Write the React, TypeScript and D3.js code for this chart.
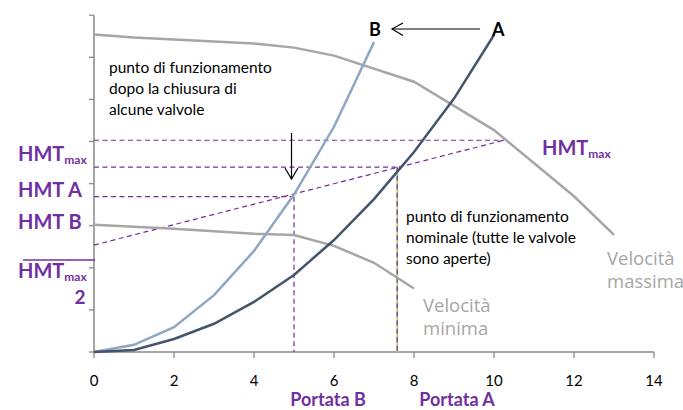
import React from 'react';
import * as d3 from 'd3';

// portata (x) e prevalenza (y)
const xTicks = [0, 2, 4, 6, 8, 10, 12, 14];
const yTicks = [0, 10, 20, 30, 40, 50, 60, 70, 80];

const qA = [0, 1, 2, 3, 4, 5, 6, 7, 8, 9, 10];
const hA = [0, 0.5, 3.1, 6.7, 11.9, 18.3, 26.6, 36.3, 47.5, 60.2, 75.3];

const qB = [0, 1, 2, 3, 4, 5, 6, 7];
const hB = [0, 1.7, 5.9, 13.5, 24, 37.4, 53.5, 73.6];

const qMax = [0, 1, 4, 5, 6, 8, 10, 12, 13];
const hMax = [75.4, 74.7, 73.3, 72.3, 70.4, 64.2, 52.7, 37, 27.8];

const qMin = [0, 2, 4, 5, 6, 7, 8];
const hMin = [30.2, 29.3, 28.1, 27.8, 25.2, 21.2, 15.1];

// punti di funzionamento
const opB = { q: 5, h: 36.9 };
const opA = { q: 7.58, h: 43.9 };
const opMax = { q: 10.25, h: 50.3 };
const slopeStart = 25.4;

const PURPLE = '#7030A0';
const GRAY = '#A6A6A6';
const DARK = '#44546A';
const LIGHT = '#8EA7C2';
const AXIS = '#898989';
const BODY = 'Lato, "Liberation Sans", sans-serif';

export default function App() {
  const W = 683;
  const H = 410;
  const x = d3.scaleLinear().domain([0, 14]).range([94, 654]);
  const y = d3.scaleLinear().domain([0, 80]).range([352, 15.2]);

  const line = d3
    .line<[number, number]>()
    .x((d) => x(d[0]))
    .y((d) => y(d[1]));

  const zip = (qs: number[], hs: number[]) => qs.map((q, i) => [q, hs[i]] as [number, number]);

  const dash = '5,3.5';

  const hmt = (px: number, py: number, size = 20, sub = 12) => (
    <text x={px} y={py} fill={PURPLE} fontWeight="bold" fontFamily={BODY} fontSize={size}>
      HMT
      <tspan fontSize={sub} dy={3}>max</tspan>
    </text>
  );

  return (
    <svg width={W} height={H} style={{ position: 'absolute', left: 0, top: 0, background: '#fff' }}>
      {/* assi */}
      <line x1={x(0)} x2={x(0)} y1={y(80)} y2={y(0)} stroke={AXIS} strokeWidth={1.5} />
      <line x1={x(0)} x2={x(14)} y1={y(0)} y2={y(0)} stroke={AXIS} strokeWidth={1.5} />
      {yTicks.map((t) => (
        <line key={'yt' + t} x1={x(0) - 5} x2={x(0)} y1={y(t)} y2={y(t)} stroke={AXIS} strokeWidth={1.3} />
      ))}
      {xTicks.map((t) => (
        <g key={'xt' + t}>
          <line x1={x(t)} x2={x(t)} y1={y(0)} y2={y(0) + 6} stroke={AXIS} strokeWidth={1.3} />
          <text x={x(t)} y={386} textAnchor="middle" fontFamily={BODY} fontSize={15} fill="#000">
            {t}
          </text>
        </g>
      ))}

      {/* linee tratteggiate */}
      <line x1={x(0)} x2={x(opMax.q)} y1={y(opMax.h)} y2={y(opMax.h)} stroke={PURPLE} strokeDasharray={dash} strokeWidth={1.2} />
      <line x1={x(0)} x2={x(opA.q)} y1={y(opA.h)} y2={y(opA.h)} stroke={PURPLE} strokeDasharray={dash} strokeWidth={1.2} />
      <line x1={x(0)} x2={x(opB.q)} y1={y(opB.h)} y2={y(opB.h)} stroke={PURPLE} strokeDasharray={dash} strokeWidth={1.2} />
      <line x1={x(0)} x2={x(opMax.q)} y1={y(slopeStart)} y2={y(opMax.h)} stroke={PURPLE} strokeDasharray={dash} strokeWidth={1.2} />
      <line x1={x(opB.q)} x2={x(opB.q)} y1={y(opB.h)} y2={y(0)} stroke={PURPLE} strokeDasharray={dash} strokeWidth={1.2} />
      <line x1={x(opA.q)} x2={x(opA.q)} y1={y(opA.h)} y2={y(0)} stroke="#AFCB5E" strokeWidth={1.6} />
      <line x1={x(opA.q)} x2={x(opA.q)} y1={y(opA.h)} y2={y(0)} stroke={PURPLE} strokeDasharray={dash} strokeWidth={1.2} />

      {/* curve */}
      <path d={line(zip(qMax, hMax)) || ''} fill="none" stroke={GRAY} strokeWidth={2.5} />
      <path d={line(zip(qMin, hMin)) || ''} fill="none" stroke={GRAY} strokeWidth={2.5} />
      <path d={line(zip(qB, hB)) || ''} fill="none" stroke={LIGHT} strokeWidth={2.5} />
      <path d={line(zip(qA, hA)) || ''} fill="none" stroke={DARK} strokeWidth={2.5} />

      {/* frecce */}
      <line x1={392} x2={480} y1={29} y2={29} stroke="#000" strokeWidth={1.2} />
      <polyline points="403,23 392,29 403,35.5" fill="none" stroke="#000" strokeWidth={1.2} />
      <line x1={291.5} x2={291.5} y1={133} y2={179} stroke="#000" strokeWidth={1.2} />
      <polyline points="285,168 291.5,179 298,168" fill="none" stroke="#000" strokeWidth={1.2} />
      <text x={369} y={36} fontFamily={BODY} fontWeight="bold" fontSize={18} fill="#000">B</text>
      <text x={492} y={36} fontFamily={BODY} fontWeight="bold" fontSize={18} fill="#000">A</text>

      {/* testi */}
      <text fontFamily={BODY} fontSize={15.5} fill="#000">
        <tspan x={109} y={73}>punto di funzionamento</tspan>
        <tspan x={109} y={94}>dopo la chiusura di</tspan>
        <tspan x={109} y={115}>alcune valvole</tspan>
      </text>
      <text fontFamily={BODY} fontSize={15.5} fill="#000">
        <tspan x={406} y={222}>punto di funzionamento</tspan>
        <tspan x={406} y={243}>nominale (tutte le valvole</tspan>
        <tspan x={406} y={264}>sono aperte)</tspan>
      </text>
      <text fontFamily='"Open Sans", sans-serif' fontSize={18.5} fill={GRAY}>
        <tspan x={607} y={265}>Velocità</tspan>
        <tspan x={607} y={288}>massima</tspan>
      </text>
      <text fontFamily='"Open Sans", sans-serif' fontSize={18.5} fill={GRAY}>
        <tspan x={423} y={312}>Velocità</tspan>
        <tspan x={423} y={335}>minima</tspan>
      </text>

      {/* etichette HMT */}
      {hmt(18, 161)}
      <text x={18} y={197} fill={PURPLE} fontWeight="bold" fontFamily={BODY} fontSize={20}>HMT A</text>
      <text x={18} y={229} fill={PURPLE} fontWeight="bold" fontFamily={BODY} fontSize={20}>HMT B</text>
      <line x1={23} x2={95} y1={260} y2={260} stroke={PURPLE} strokeWidth={1.5} />
      {hmt(18, 278)}
      <text x={80} y={304} textAnchor="middle" fill={PURPLE} fontWeight="bold" fontFamily={BODY} fontSize={19}>2</text>
      {hmt(542, 155)}

      <text x={328} y={406} textAnchor="middle" fill={PURPLE} fontWeight="bold" fontFamily={BODY} fontSize={18}>Portata B</text>
      <text x={457} y={406} textAnchor="middle" fill={PURPLE} fontWeight="bold" fontFamily={BODY} fontSize={18}>Portata A</text>
    </svg>
  );
}
